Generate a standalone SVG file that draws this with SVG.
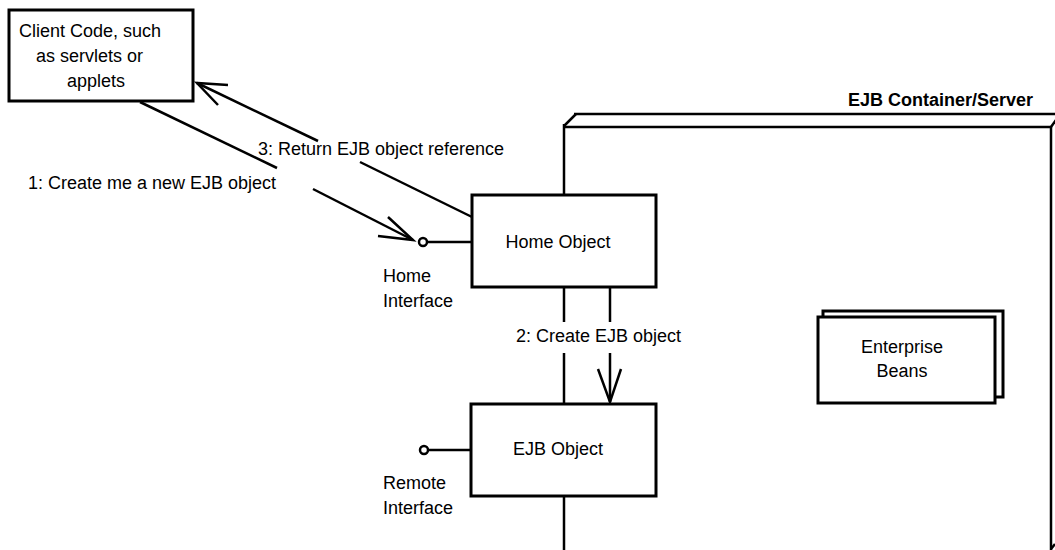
<svg xmlns="http://www.w3.org/2000/svg" width="1055" height="550" viewBox="0 0 1055 550">
<style>
  text { font-family: "Liberation Sans", Arial, sans-serif; font-size: 18px; fill: #000; }
  .bold { font-weight: bold; }
  .box { fill: #fff; stroke: #000; stroke-width: 3; }
  .ln { fill: none; stroke: #000; stroke-width: 2.5; stroke-linecap: butt; }
  .wall { fill: none; stroke: #000; stroke-width: 2.5; }
  .lolli { fill: #fff; stroke: #000; stroke-width: 2.5; }
</style>
<rect width="1055" height="550" fill="#fff"/>

<g id="container">
  <line class="wall" x1="564" y1="124" x2="564" y2="322"/>
  <line class="wall" x1="564" y1="353" x2="564" y2="550"/>
  <line class="wall" x1="563" y1="127" x2="1052" y2="127"/>
  <line class="wall" x1="574" y1="114" x2="1055" y2="114"/>
  <line class="wall" x1="564" y1="126" x2="576" y2="114"/>
  <line class="wall" x1="1051" y1="127" x2="1051" y2="550"/>
  <line class="wall" x1="1051" y1="127" x2="1056" y2="120"/>
  <line class="wall" x1="1051" y1="549" x2="1055" y2="544"/>
  <text class="bold" x="1033" y="106" text-anchor="end">EJB Container/Server</text>
</g>

<g id="connectors">
  <!-- 1: Create me a new EJB object -->
  <line class="ln" x1="140" y1="102" x2="277" y2="168"/>
  <line class="ln" x1="313" y1="189" x2="413" y2="240"/>
  <polyline class="ln" points="388,217 413,240 378,236"/>
  <text x="28" y="189">1: Create me a new EJB object</text>
  <!-- 3: Return EJB object reference -->
  <line class="ln" x1="197" y1="83" x2="318" y2="141"/>
  <line class="ln" x1="360" y1="162" x2="472" y2="217"/>
  <polyline class="ln" points="228,85 197,83 218,105"/>
  <text x="258" y="155">3: Return EJB object reference</text>
  <!-- 2: Create EJB object -->
  <line class="ln" x1="610" y1="287" x2="610" y2="322"/>
  <line class="ln" x1="610" y1="353" x2="610" y2="402"/>
  <polyline class="ln" points="598,369 610,402 621,369"/>
  <text x="516" y="342">2: Create EJB object</text>
  <!-- interfaces -->
  <line class="ln" x1="427" y1="242" x2="472" y2="242"/>
  <line class="ln" x1="428" y1="450" x2="471" y2="450"/>
</g>

<g id="client">
  <rect class="box" x="9" y="10" width="184" height="91"/>
  <text x="19" y="37">Client Code, such</text>
  <text x="36" y="62">as servlets or</text>
  <text x="67" y="87">applets</text>
</g>

<g id="home-object">
  <rect class="box" x="472" y="195" width="184" height="92"/>
  <text x="558" y="248" text-anchor="middle">Home Object</text>
</g>

<g id="home-interface">
  <circle class="lolli" cx="423" cy="242" r="4"/>
  <text x="383" y="282">Home</text>
  <text x="383" y="307">Interface</text>
</g>

<g id="ejb-object">
  <rect class="box" x="471" y="404" width="185" height="92"/>
  <text x="558" y="455" text-anchor="middle">EJB Object</text>
</g>

<g id="remote-interface">
  <circle class="lolli" cx="424" cy="450" r="4"/>
  <text x="383" y="489">Remote</text>
  <text x="383" y="514">Interface</text>
</g>

<g id="enterprise-beans">
  <rect class="box" x="823" y="311" width="180" height="86"/>
  <rect class="box" x="818" y="317" width="177" height="86"/>
  <text x="902" y="353" text-anchor="middle">Enterprise</text>
  <text x="902" y="377" text-anchor="middle">Beans</text>
</g>
</svg>
